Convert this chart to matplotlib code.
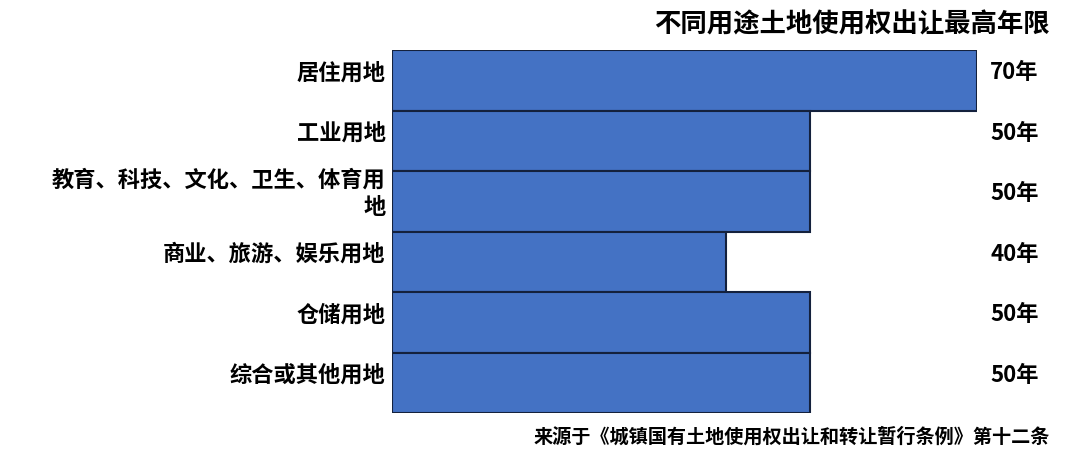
import matplotlib.pyplot as plt

plt.rcParams['font.family'] = ['Noto Sans CJK SC', 'DejaVu Sans']

categories = ["居住用地", "工业用地", "教育、科技、文化、卫生、体育用\n地",
              "商业、旅游、娱乐用地", "仓储用地", "综合或其他用地"]
years = [70, 50, 50, 40, 50, 50]
value_labels = ["70年", "50年", "50年", "40年", "50年", "50年"]

title = "不同用途土地使用权出让最高年限"
source = "来源于《城镇国有土地使用权出让和转让暂行条例》第十二条"

fig = plt.figure(figsize=(10.8, 4.5), dpi=100)
ax = fig.add_axes([392 / 1080, 1 - 413 / 450, 585 / 1080, 363 / 450])

pos = list(range(len(categories)))
ax.barh(pos, years, height=1.0, color='#4472C4', edgecolor='#14213d', linewidth=1.5)

ax.set_xlim(0, 70)
ax.set_ylim(len(categories) - 0.5, -0.5)
ax.axis('off')

for i, (cat, lab) in enumerate(zip(categories, value_labels)):
    ax.text(-0.75, i - 0.12, cat, ha='right', va='center', fontsize=16,
            fontweight='bold', multialignment='right', linespacing=1.25,
            clip_on=False)
    ax.text(71.6, i - 0.12, lab, ha='left', va='center', fontsize=16,
            fontweight='bold', clip_on=False)

fig.text(1050 / 1080, 1 - 25 / 450, title, ha='right', va='center',
         fontsize=19, fontweight='bold')
fig.text(1050 / 1080, 1 - 437 / 450, source, ha='right', va='center',
         fontsize=13.8, fontweight='bold')

fig.savefig('out.png', dpi=100)
